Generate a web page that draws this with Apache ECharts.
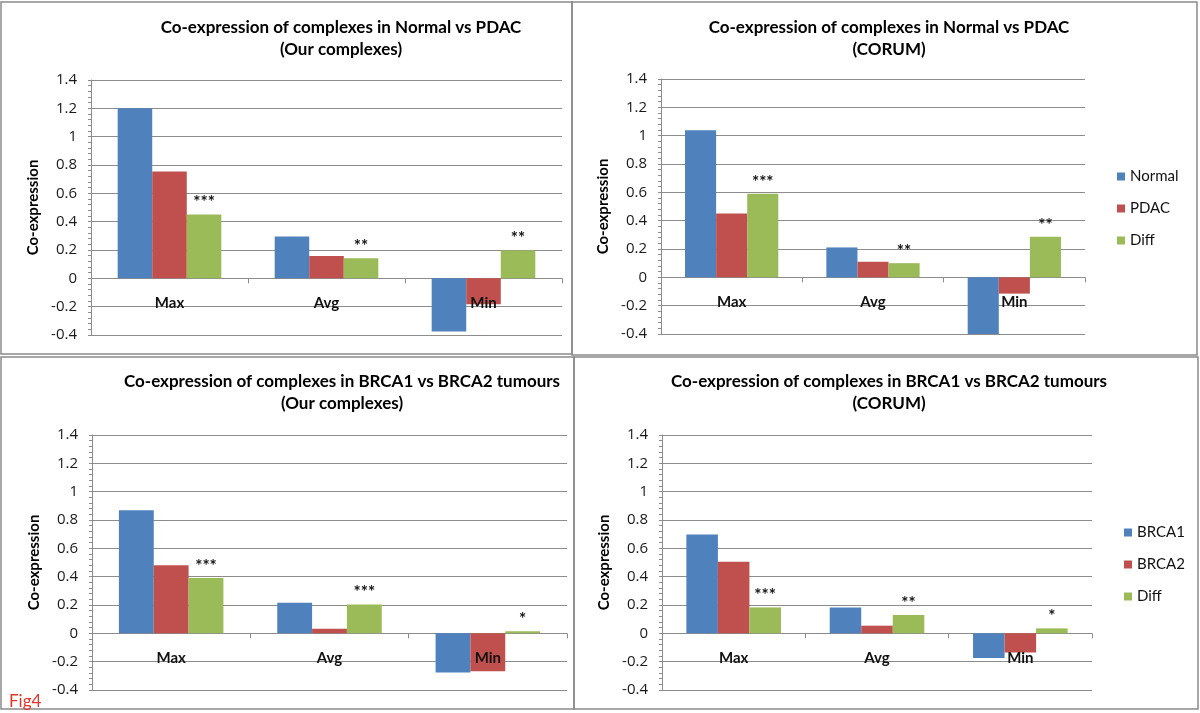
<!DOCTYPE html>
<html><head><meta charset="utf-8">
<script src="https://cdn.jsdelivr.net/npm/echarts@6/dist/echarts.min.js"></script>
<style>html,body{margin:0;padding:0;background:#fff}#c{width:1200px;height:713px}</style>
</head><body><div id="c"></div>
<script>
// ---------- data ----------
const categories = ['Max', 'Avg', 'Min'];

// Top-left: Normal vs PDAC (Our complexes)
const tlNormal = [1.20, 0.295, -0.376];
const tlPDAC   = [0.754, 0.157, -0.183];
const tlDiff   = [0.451, 0.141, 0.197];
const tlStars  = ['***', '**', '**'];

// Top-right: Normal vs PDAC (CORUM)
const trNormal = [1.038, 0.211, -0.40];
const trPDAC   = [0.451, 0.11, -0.115];
const trDiff   = [0.59, 0.10, 0.287];
const trStars  = ['***', '**', '**'];

// Bottom-left: BRCA1 vs BRCA2 (Our complexes)
const blBRCA1  = [0.869, 0.216, -0.277];
const blBRCA2  = [0.48, 0.033, -0.268];
const blDiff   = [0.39, 0.204, 0.014];
const blStars  = ['***', '***', '*'];

// Bottom-right: BRCA1 vs BRCA2 (CORUM)
const brBRCA1  = [0.698, 0.183, -0.174];
const brBRCA2  = [0.505, 0.054, -0.136];
const brDiff   = [0.183, 0.129, 0.035];
const brStars  = ['***', '**', '*'];

const titles = [
  'Co-expression of complexes in Normal vs PDAC\n(Our complexes)',
  'Co-expression of complexes in Normal vs PDAC\n(CORUM)',
  'Co-expression of complexes in BRCA1 vs BRCA2 tumours\n(Our complexes)',
  'Co-expression of complexes in BRCA1 vs BRCA2 tumours\n(CORUM)'
];
const legendA = ['Normal', 'PDAC', 'Diff'];
const legendB = ['BRCA1', 'BRCA2', 'Diff'];
const yName = 'Co-expression';
const yMin = -0.4, yMax = 1.4, yStep = 0.2;

// ---------- styling ----------
const FONT = 'Lato, "Open Sans", sans-serif';
const NUMFONT = '"Open Sans", Lato, sans-serif';
const BLUE = '#4F81BD', RED = '#C0504D', GREEN = '#9BBB59';
const GRID_C = '#8c8c8c';

const grids = [
  { left: 91,  top: 80,  width: 471, height: 255 },
  { left: 661, top: 79,  width: 424, height: 255 },
  { left: 92,  top: 435, width: 475, height: 255 },
  { left: 662, top: 435, width: 430, height: 255 }
];
const titleCenters = [[336, 12], [884, 12], [337, 366], [884, 366]];

const panels = [
  { names: legendA, data: [tlNormal, tlPDAC, tlDiff], stars: tlStars },
  { names: legendA, data: [trNormal, trPDAC, trDiff], stars: trStars },
  { names: legendB, data: [blBRCA1, blBRCA2, blDiff], stars: blStars },
  { names: legendB, data: [brBRCA1, brBRCA2, brDiff], stars: brStars }
];
const colors = [BLUE, RED, GREEN];

// category axis sits on the value-axis zero line (offset from the bottom edge by the scale)
const xAxes = grids.map((g, i) => ({
  type: 'category', gridIndex: i, data: categories, z: 5, position: 'bottom',
  offset: -g.height * (0 - yMin) / (yMax - yMin),
  axisLine: { show: false, onZero: false },
  axisTick: { show: true, length: 5, lineStyle: { color: GRID_C } },
  axisLabel: { fontFamily: FONT, fontWeight: 'bold', fontSize: 15, color: '#111', margin: 17 },
  splitLine: { show: false }
}));
const yAxes = grids.map((g, i) => ({
  type: 'value', gridIndex: i, min: yMin, max: yMax, interval: yStep,
  name: yName, nameLocation: 'middle', nameGap: 50,
  nameTextStyle: { fontFamily: FONT, fontWeight: 'bold', fontSize: 15, color: '#000' },
  axisLine: { show: true, lineStyle: { color: GRID_C } },
  axisTick: { show: true, length: 3, lineStyle: { color: GRID_C } },
  minorTick: { show: true, splitNumber: 5, length: 3, lineStyle: { color: GRID_C } },
  axisLabel: { fontFamily: NUMFONT, fontSize: 15, color: '#1a1a1a', margin: 14 },
  splitLine: { show: true, lineStyle: { color: GRID_C, width: 1 } }
}));

const series = [];
panels.forEach((p, i) => {
  p.data.forEach((vals, k) => {
    const s = {
      type: 'bar', name: p.names[k], xAxisIndex: i, yAxisIndex: i,
      data: vals, barGap: '0%', barCategoryGap: '34%',
      itemStyle: { color: colors[k] }
    };
    if (k === 2) {
      s.label = {
        show: true, position: 'top', distance: 3,
        formatter: (prm) => p.stars[prm.dataIndex],
        fontFamily: FONT, fontWeight: 'bold', fontSize: 17, color: '#111'
      };
    }
    series.push(s);
  });
});

const option = {
  backgroundColor: '#fff',
  animation: false,
  title: titles.map((t, i) => ({
    text: t, left: titleCenters[i][0], top: titleCenters[i][1], textAlign: 'center',
    textStyle: { fontFamily: FONT, fontWeight: 'bold', fontSize: 17, color: '#000', lineHeight: 22 }
  })).concat([{
    text: 'Fig4', left: 4, top: 688,
    textStyle: { fontFamily: FONT, fontWeight: 'normal', fontSize: 17, color: '#e0352d' }
  }]),
  legend: [
    { data: legendA, orient: 'vertical', left: 1112, top: 164, itemWidth: 8, itemHeight: 8,
      itemGap: 17, icon: 'rect', textStyle: { fontFamily: FONT, fontSize: 15, color: '#111' } },
    { data: legendB, orient: 'vertical', left: 1119, top: 520, itemWidth: 8, itemHeight: 8,
      itemGap: 17, icon: 'rect', textStyle: { fontFamily: FONT, fontSize: 15, color: '#111' } }
  ],
  grid: grids,
  xAxis: xAxes,
  yAxis: yAxes,
  series: series,
  graphic: [
    { type: 'rect', shape: { x: 1, y: 2, width: 571, height: 352 }, style: { fill: 'none', stroke: '#8a8a8a', lineWidth: 1.5 }, z: -1 },
    { type: 'rect', shape: { x: 572, y: 2, width: 625, height: 353 }, style: { fill: 'none', stroke: '#8a8a8a', lineWidth: 1.5 }, z: -1 },
    { type: 'rect', shape: { x: 1, y: 357, width: 573, height: 352 }, style: { fill: 'none', stroke: '#8a8a8a', lineWidth: 1.5 }, z: -1 },
    { type: 'rect', shape: { x: 574, y: 357, width: 624, height: 352 }, style: { fill: 'none', stroke: '#8a8a8a', lineWidth: 1.5 }, z: -1 }
  ]
};

const chart = echarts.init(document.getElementById('c'), null, { renderer: 'canvas' });
chart.setOption(option);
</script>
</body></html>
